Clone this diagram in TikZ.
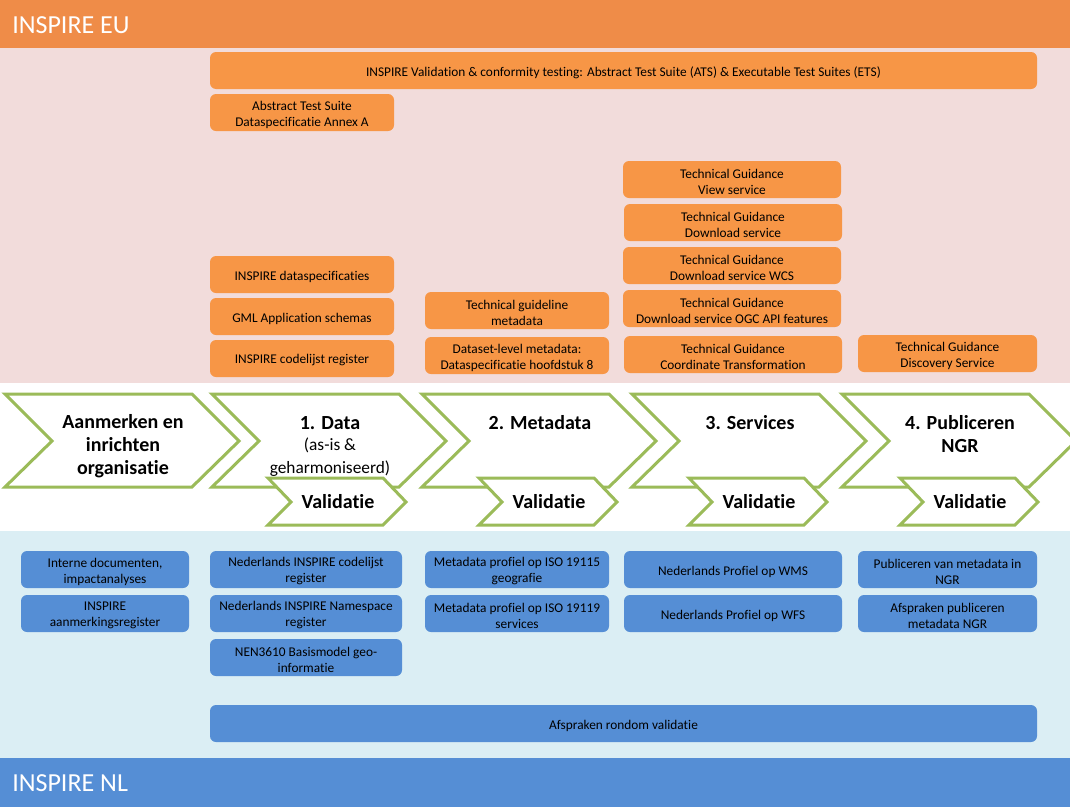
\documentclass[tikz,border=0pt]{standalone}
\usepackage{fontspec}
\setmainfont{Carlito}[Ligatures={NoCommon}]
\definecolor{hdrorange}{RGB}{239,140,72}
\definecolor{pinkbg}{RGB}{242,220,219}
\definecolor{boxorange}{RGB}{247,150,70}
\definecolor{lightbluebg}{RGB}{219,238,244}
\definecolor{boxblue}{RGB}{85,142,213}
\definecolor{chevgreen}{RGB}{155,187,89}
\tikzset{
  obox/.style={fill=boxorange, rounded corners=4.5pt},
  bbox/.style={fill=boxblue, rounded corners=4.5pt},
  boxtext/.style={inner sep=0pt, align=center, font=\fontsize{10}{12}\selectfont, text=black},
  chev/.style={draw=chevgreen, fill=white, line width=2.25pt, line join=miter},
  chevtext/.style={font=\fontsize{15}{17.3}\selectfont\bfseries, align=center, inner sep=0pt},
  subtext/.style={font=\fontsize{13}{16.8}\selectfont, align=center, inner sep=0pt},
  hdr/.style={text=white, font=\fontsize{19.5}{22}\selectfont, anchor=west, inner sep=0pt}
}
\newcommand\bx[7]{%
  \fill[#1] (#3,#4) rectangle (#5,#6);
  \node[boxtext] (#2) at ({(#3+#5)/2},{(#4+#6)/2+2}) {#7};}
\newcommand\bigchev[2]{% name, left x
  \path[chev] (#2,394) -- ({#2+187},394) -- ({#2+234},441) -- ({#2+187},487)
     -- (#2,487) -- ({#2+47},441) -- cycle;}
\newcommand\valchev[2]{% name, left x
  \path[chev] (#2,478) -- ({#2+115},478) -- ({#2+138},502) -- ({#2+115},525)
     -- (#2,525) -- ({#2+23},502) -- cycle;
  \node[chevtext] (#1) at ({#2+70},502) {Validatie};}
\begin{document}
\begin{tikzpicture}[x=0.75pt,y=-0.75pt]
\useasboundingbox (0,0) rectangle (1070,807);
\begin{scope}
\clip (0,0) rectangle (1070,807);
% bands
\fill[white] (0,0) rectangle (1070,807);
\fill[hdrorange] (0,0) rectangle (1070,48);
\fill[pinkbg] (0,48) rectangle (1070,383);
\fill[lightbluebg] (0,531) rectangle (1070,758);
\fill[boxblue] (0,758) rectangle (1070,807);
\node[hdr] (eu) at (12,25) {INSPIRE EU};
\node[hdr] (nl) at (12,783) {INSPIRE NL};

% orange boxes
\bx{obox}{ats}{210}{52}{1037}{89}{INSPIRE Validation \& conformity testing: Abstract Test Suite (ATS) \& Executable Test Suites (ETS)}
\bx{obox}{atsa}{210}{94}{394}{131}{Abstract Test Suite\\Dataspecificatie Annex A}
\bx{obox}{dspec}{210}{256}{394}{293}{INSPIRE dataspecificaties}
\bx{obox}{gml}{210}{298}{394}{335}{GML Application schemas}
\bx{obox}{codel}{210}{340}{394}{377}{INSPIRE codelijst register}
\bx{obox}{tgmeta}{425}{292}{609}{329}{Technical guideline\\metadata}
\bx{obox}{dsmeta}{425}{337}{609}{374}{Dataset-level metadata:\\Dataspecificatie hoofdstuk 8}
\bx{obox}{tgview}{623}{161}{841}{198}{Technical Guidance\\View service}
\bx{obox}{tgdl}{624}{204}{842}{241}{Technical Guidance\\Download service}
\bx{obox}{tgwcs}{623}{247}{841}{284}{Technical Guidance\\Download service WCS}
\bx{obox}{tgogc}{623}{290}{841}{327}{Technical Guidance\\Download service OGC API features}
\bx{obox}{tgct}{624}{336}{842}{373}{Technical Guidance\\Coordinate Transformation}
\bx{obox}{tgdisc}{858}{335}{1037}{372}{Technical Guidance\\Discovery Service}

% chevrons
\bigchev{c1}{5}
\bigchev{c2}{212}
\bigchev{c3}{422}
\bigchev{c4}{632}
\bigchev{c5}{842}
\node[chevtext] (t1) at (123,446) {Aanmerken en\\inrichten\\organisatie};
\node[chevtext] (t2) at (330,423) {1. Data};
\node[subtext] (t2b) at (330,457) {(as-is \&\\geharmoniseerd)};
\node[chevtext] (t3) at (540,423) {2. Metadata};
\node[chevtext] (t4) at (750,423) {3. Services};
\node[chevtext] (t5) at (960,434) {4. Publiceren\\NGR};
\valchev{v2}{268}
\valchev{v3}{479}
\valchev{v4}{689}
\valchev{v5}{900}

% blue boxes
\bx{bbox}{intern}{21}{551}{189}{588}{Interne documenten,\\impactanalyses}
\bx{bbox}{aanm}{21}{595}{189}{632}{INSPIRE\\aanmerkingsregister}
\bx{bbox}{nlcode}{210}{551}{402}{588}{Nederlands INSPIRE codelijst\\register}
\bx{bbox}{nlns}{210}{595}{402}{632}{Nederlands INSPIRE Namespace\\register}
\bx{bbox}{nen}{210}{639}{402}{676}{NEN3610 Basismodel geo-\\informatie}
\bx{bbox}{iso15}{425}{551}{609}{588}{Metadata profiel op ISO 19115\\geografie}
\bx{bbox}{iso19}{425}{595}{609}{632}{Metadata profiel op ISO 19119\\services}
\bx{bbox}{wms}{624}{551}{842}{588}{Nederlands Profiel op WMS}
\bx{bbox}{wfs}{624}{595}{842}{632}{Nederlands Profiel op WFS}
\bx{bbox}{pubm}{858}{551}{1037}{588}{Publiceren van metadata in\\NGR}
\bx{bbox}{afpub}{858}{595}{1037}{632}{Afspraken publiceren\\metadata NGR}
\bx{bbox}{afval}{210}{705}{1037}{742}{Afspraken rondom validatie}
\end{scope}
\end{tikzpicture}
\end{document}
